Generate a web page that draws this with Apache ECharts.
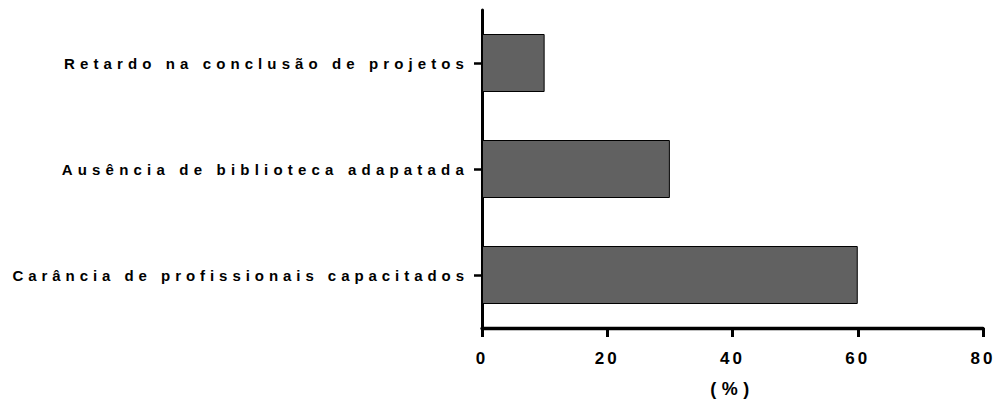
<!DOCTYPE html>
<html>
<head>
<meta charset="utf-8">
<script src="https://cdn.jsdelivr.net/npm/echarts@6/dist/echarts.min.js"></script>
<style>
  html, body { margin: 0; padding: 0; background: #fff; }
  #chart { width: 1000px; height: 401px; }
</style>
</head>
<body>
<div id="chart"></div>
<script>
// Categories listed bottom to top (category axis grows upward)
const categories = [
  'Carância de profissionais capacitados',
  'Ausência de biblioteca adapatada',
  'Retardo na conclusão de projetos'
];
const percentages = [60, 30, 10];
const xMin = 0;
const xMax = 80;
const xStep = 20;
const xAxisName = '(%)';

// Tracking (px) for each category label, same order as categories
const categoryTracking = [4.95, 5.2, 5.1];

const FONT = '"Liberation Sans", Arial, Helvetica, sans-serif';

const chart = echarts.init(document.getElementById('chart'), null, { renderer: 'svg' });

chart.setOption({
  animation: false,
  backgroundColor: '#ffffff',
  grid: {
    left: 482, right: 17, top: 10, bottom: 73,
    containLabel: false, outerBoundsMode: 'none'
  },
  xAxis: {
    type: 'value',
    min: xMin,
    max: xMax,
    interval: xStep,
    name: xAxisName,
    nameLocation: 'middle',
    nameGap: 52,
    nameTextStyle: { color: '#000', fontFamily: FONT, fontWeight: 'bold', fontSize: 18 },
    axisLine: { show: true, lineStyle: { color: '#000', width: 3.3 } },
    axisTick: { show: true, length: 9, lineStyle: { color: '#000', width: 3 } },
    axisLabel: { color: '#000', fontFamily: FONT, fontWeight: 'bold', fontSize: 17, margin: 22 },
    splitLine: { show: false }
  },
  yAxis: {
    type: 'category',
    data: categories,
    axisLine: { show: true, lineStyle: { color: '#000', width: 3 } },
    axisTick: { show: true, alignWithLabel: true, length: 8, lineStyle: { color: '#000', width: 2.5 } },
    axisLabel: {
      color: '#000', fontFamily: FONT, fontWeight: 'bold', fontSize: 15,
      margin: 13, padding: [4, 0, 0, 0]
    },
    splitLine: { show: false }
  },
  series: [{
    type: 'bar',
    data: percentages,
    barWidth: 58,
    itemStyle: { color: '#616161', borderColor: '#000', borderWidth: 1 }
  }]
});

// Wide tracking on all chart text
function applySpacing() {
  document.querySelectorAll('#chart svg text').forEach(function (t) {
    const s = t.textContent;
    const ci = categories.indexOf(s);
    let sp = 3.1;
    if (ci >= 0) sp = categoryTracking[ci];
    else if (s === xAxisName) sp = 5.5;
    t.setAttribute('letter-spacing', sp);
  });
}
chart.on('finished', applySpacing);
applySpacing();
</script>
</body>
</html>
